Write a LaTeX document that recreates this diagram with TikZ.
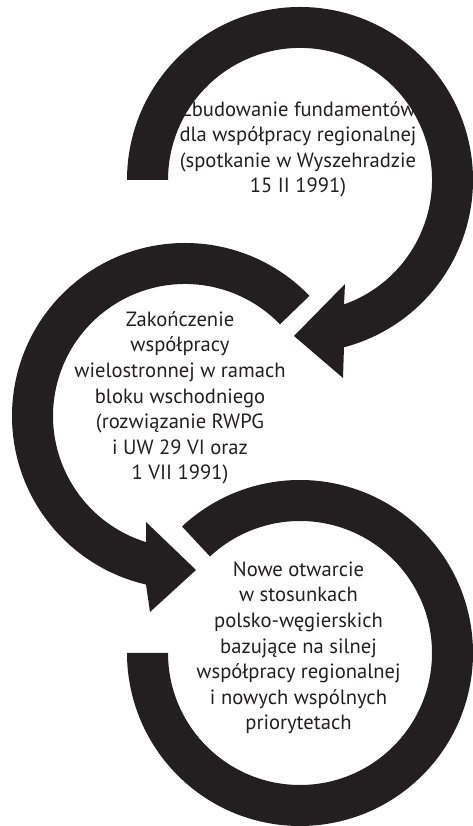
\documentclass[tikz,border=0pt]{standalone}
\usepackage{fontspec}
\setmainfont{PT Sans}
\definecolor{ink}{RGB}{35,31,32}
\begin{document}
\begin{tikzpicture}[x=1pt,y=1pt,
  band/.style={fill=ink, draw=none},
  lbl/.style={align=center, text=ink, font=\fontsize{20.6}{25.6}\selectfont, inner sep=0pt, anchor=base}]
\useasboundingbox (0,0) rectangle (473,826);
\node[lbl] (t1) at (298,633) {Zbudowanie fundamentów\\dla współpracy regionalnej\\(spotkanie w Wyszehradzie\\15 II 1991)};
\node[lbl] (t2) at (180,346) {Zakończenie\\współpracy\\wielostronnej w ramach\\bloku wschodniego\\(rozwiązanie RWPG\\i UW 29 VI oraz\\1 VII 1991)};
\node[lbl] (t3) at (298.5,96) {Nowe otwarcie\\w stosunkach\\polsko-węgierskich\\bazujące na silnej\\współpracy regionalnej\\i nowych wspólnych\\priorytetach};
% circle 1
\fill[band] (127,646) arc[start angle=180,end angle=-75.27,radius=173] -- (343,448) -- (294,490) -- (345,542) -- (344,521.6) arc[start angle=-70.53,end angle=180,radius=132] -- cycle;
% circle 2
\fill[band] ([shift={(185,410)}]44:173) arc[start angle=44,end angle=256.97,radius=173] -- (150,214) -- (196,256) -- (146,304) -- (146,283.9) arc[start angle=252.8,end angle=44,radius=132] -- cycle;
% circle 3
\fill[band] ([shift={(300,173)}]133:173) arc[start angle=133,end angle=-180,radius=173] -- (168,173) arc[start angle=-180,end angle=133,radius=132] -- cycle;
\end{tikzpicture}
\end{document}
